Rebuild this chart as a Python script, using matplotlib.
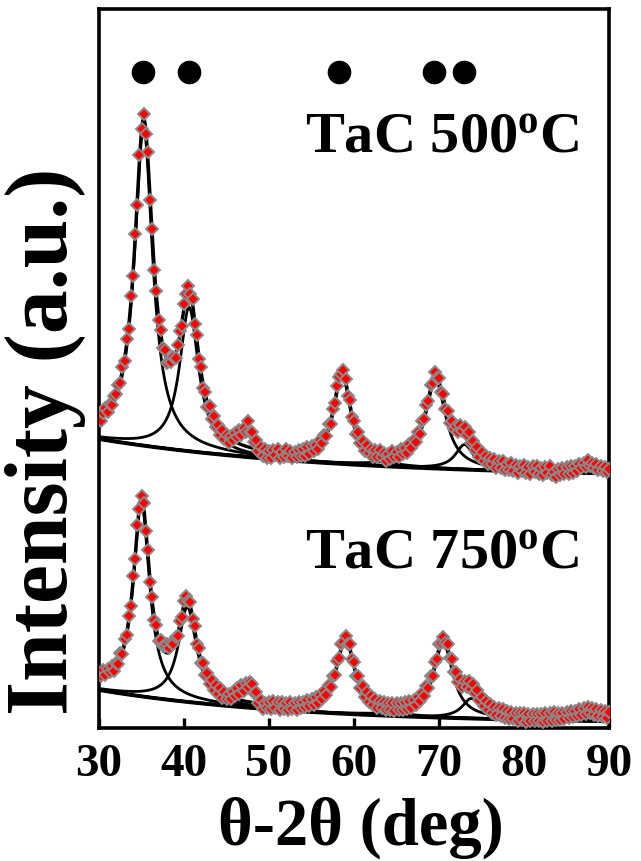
import numpy as np
import matplotlib
matplotlib.use("Agg")
import matplotlib.pyplot as plt

plt.rcParams['font.family'] = ['Liberation Serif', 'DejaVu Serif']
plt.rcParams['font.weight'] = 'bold'
plt.rcParams['mathtext.fontset'] = 'custom'
plt.rcParams['mathtext.rm'] = 'Liberation Serif:bold'
plt.rcParams['mathtext.bf'] = 'Liberation Serif:bold'
plt.rcParams['mathtext.it'] = 'Liberation Serif:bold:italic'

# Scan grid (2-theta, deg)
scan_start = 30.0
scan_step = 0.25

# Measured intensities (a.u., patterns stacked with an offset)
counts_500 = [
    313, 307, 315, 320, 316, 324, 323, 332, 334, 343, 345, 361, 367, 389, 399, 432, 452, 494, 523, 573,
    599, 614, 594, 576, 528, 499, 458, 437, 408, 398, 380, 378, 365, 367, 366, 371, 370, 383, 397, 402,
    424, 434, 442, 434, 429, 404, 393, 369, 361, 340, 336, 321, 322, 309, 312, 301, 303, 293, 298, 289,
    293, 285, 292, 288, 295, 291, 298, 293, 300, 296, 307, 296, 296, 286, 288, 277, 281, 272, 279, 270,
    277, 270, 278, 273, 279, 270, 276, 271, 279, 272, 277, 270, 276, 271, 278, 272, 279, 272, 281, 274,
    282, 277, 283, 279, 288, 285, 293, 292, 304, 304, 319, 325, 342, 351, 354, 358, 349, 332, 328, 311,
    307, 294, 296, 285, 287, 277, 283, 275, 279, 271, 278, 271, 278, 271, 275, 267, 274, 269, 277, 271,
    276, 271, 279, 274, 280, 275, 284, 280, 288, 286, 296, 294, 307, 309, 323, 327, 343, 345, 356, 350,
    350, 336, 334, 319, 317, 305, 307, 299, 302, 296, 303, 297, 301, 293, 296, 285, 287, 278, 281, 271,
    276, 267, 272, 264, 270, 264, 269, 260, 267, 260, 267, 258, 264, 258, 265, 257, 263, 255, 262, 257,
    263, 255, 261, 254, 262, 256, 262, 254, 260, 253, 261, 255, 262, 253, 256, 251, 259, 253, 260, 254,
    261, 254, 262, 255, 262, 257, 264, 260, 265, 261, 268, 262, 265, 260, 264, 258, 262, 257, 261, 256,
    259,
]
counts_750 = [
    55, 52, 58, 53, 59, 56, 62, 57, 65, 64, 75, 74, 89, 93, 112, 122, 152, 169, 203, 219,
    232, 225, 197, 178, 146, 131, 108, 103, 87, 88, 82, 82, 84, 80, 85, 84, 91, 92, 107, 111,
    127, 132, 127, 126, 109, 102, 84, 80, 65, 65, 53, 55, 44, 48, 38, 43, 34, 40, 30, 36,
    29, 34, 29, 36, 32, 40, 34, 43, 37, 45, 41, 46, 44, 35, 36, 25, 28, 19, 25, 20,
    26, 19, 27, 20, 26, 18, 26, 19, 25, 18, 26, 19, 25, 18, 26, 20, 26, 21, 28, 22,
    29, 23, 31, 25, 33, 29, 37, 33, 43, 41, 52, 53, 67, 70, 84, 86, 92, 84, 84, 69,
    66, 52, 52, 40, 42, 31, 36, 26, 32, 23, 29, 20, 27, 20, 26, 18, 25, 18, 25, 17,
    25, 18, 25, 18, 26, 19, 27, 20, 28, 23, 31, 27, 35, 32, 42, 40, 52, 52, 66, 69,
    84, 85, 91, 85, 84, 70, 69, 56, 56, 46, 49, 41, 47, 41, 47, 39, 44, 35, 38, 28,
    31, 22, 27, 18, 24, 15, 21, 13, 20, 12, 19, 10, 17, 9, 16, 9, 15, 7, 15, 8,
    15, 6, 14, 7, 14, 7, 14, 7, 14, 6, 15, 7, 15, 7, 16, 8, 15, 8, 15, 9,
    16, 10, 17, 11, 17, 12, 19, 13, 20, 14, 21, 15, 20, 13, 19, 12, 18, 11, 17, 10,
    16,
]

# Fitted background: level + amplitude * exp(-(2theta - 30) / decay)
background_500 = (250.0, 39.0, 28.0)
background_750 = (4.0, 34.0, 24.0)

# Fitted Lorentzian components: centre (deg), height (a.u.), half width (deg)
centres_500 = [35.25, 40.6, 58.6, 69.6, 73.0]
heights_500 = [318, 144, 89, 88, 25]
widths_500 = [1.3, 1.35, 1.2, 1.45, 1.3]

centres_750 = [35.0, 40.4, 59.0, 70.5, 73.8]
heights_750 = [193, 95, 74, 75, 20]
widths_750 = [1.15, 1.3, 1.3, 1.35, 1.3]

# TaC reflections marked above the patterns
reflections = [35.15, 40.6, 58.25, 69.45, 72.9]
reflection_level = 656

x_ticks = [30, 40, 50, 60, 70, 80, 90]
labels = ['TaC 500$^{\\mathbf{o}}$C', 'TaC 750$^{\\mathbf{o}}$C']
label_pos = [(54.2, 577), (54.2, 161)]


def background(x, params):
    level, amp, decay = params
    return level + amp * np.exp(-(x - scan_start) / decay)


def lorentz(x, c, h, w):
    return h / (1.0 + ((x - c) / w) ** 2)


fig = plt.figure(figsize=(6.41, 8.62), dpi=100)
ax = fig.add_axes([99 / 641, 1 - 729 / 862, 510 / 641, 719 / 862])

xf = np.linspace(30, 90, 1201)
patterns = [
    (counts_500, background_500, centres_500, heights_500, widths_500),
    (counts_750, background_750, centres_750, heights_750, widths_750),
]
for counts, bgp, cs, hs, ws in patterns:
    bg = background(xf, bgp)
    total = bg.copy()
    for c, h, w in zip(cs, hs, ws):
        comp = lorentz(xf, c, h, w)
        total += comp
        ax.plot(xf, bg + comp, color='black', lw=2.0, zorder=2)
    ax.plot(xf, bg, color='black', lw=2.8, zorder=2)
    ax.plot(xf, total, color='black', lw=2.4, zorder=2)
    xs = scan_start + scan_step * np.arange(len(counts))
    ax.plot(xs, counts, ls='none', marker='D', ms=6.4, mfc='#ff0000',
            mec='#8a8a8a', mew=1.4, zorder=3)

ax.plot(reflections, [reflection_level] * len(reflections), ls='none',
        marker='o', ms=16, color='black', zorder=4)

for (lx, ly), txt in zip(label_pos, labels):
    ax.text(lx, ly, txt, fontsize=42, fontweight='bold', ha='left',
            va='baseline')

ax.set_xlim(30, 90)
ax.set_ylim(0, 719)
ax.set_xticks(x_ticks)
ax.set_xticklabels([str(t) for t in x_ticks])
ax.set_yticks([])
ax.tick_params(axis='x', direction='in', length=7, width=2.4, pad=11,
               labelsize=34, top=False)
for lbl in ax.get_xticklabels():
    lbl.set_fontweight('bold')
for sp in ax.spines.values():
    sp.set_linewidth(2.6)

fig.text(361 / 641, 1 - 845 / 862, '\u03b8-2\u03b8 (deg)', fontsize=48,
         fontweight='bold', ha='center', va='baseline')
fig.text(46 / 641, 1 - 441 / 862, 'Intensity (a.u.)', fontsize=63,
         fontweight='bold', ha='center', va='center', rotation=90)

fig.savefig('out.png', dpi=100)
